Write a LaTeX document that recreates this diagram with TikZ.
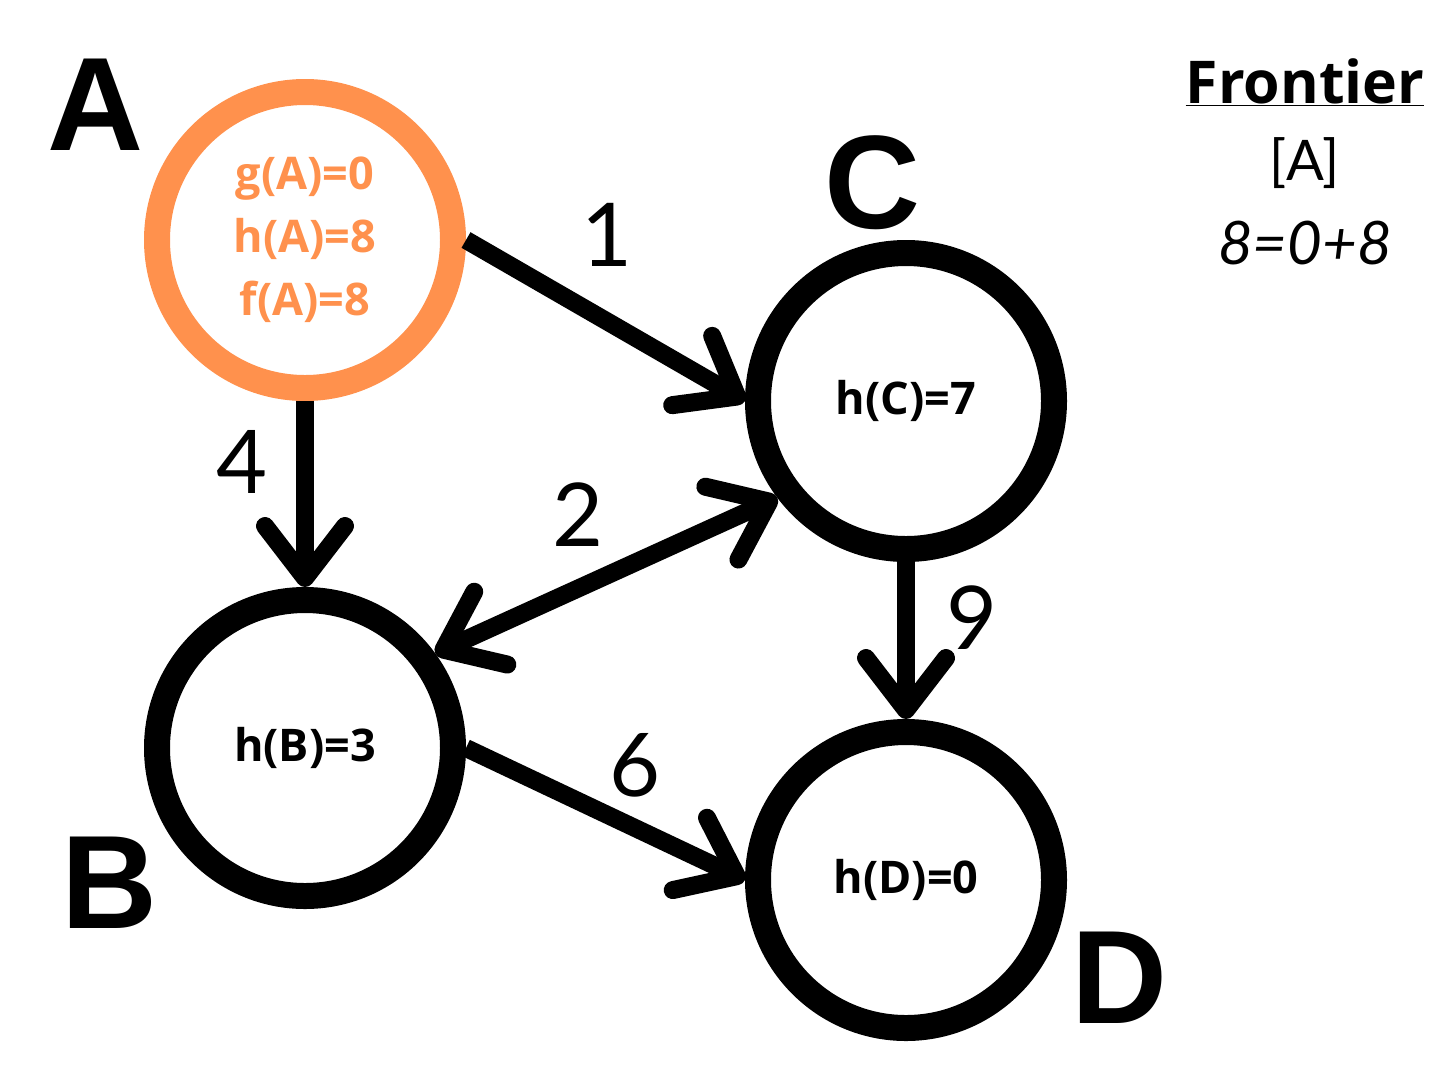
\documentclass[tikz,border=0pt]{standalone}
\usepackage{fontspec}
\usetikzlibrary{arrows.meta}
\newfontfamily\letterfont{Liberation Sans}
\newfontfamily\statefont{Open Sans}
\newfontfamily\numfont{Lato}
\definecolor{visitorange}{HTML}{FF914D}
\begin{document}
\begin{tikzpicture}[x=1pt,y=-1pt,
  state/.style={circle,draw=black,line width=26pt,minimum size=296pt,inner sep=0pt,align=center,
    font=\statefont\bfseries\fontsize{45}{63}\selectfont},
  edge/.style={line width=18pt,-{Straight Barb[round,length=52pt,width=80pt]}},
  cost/.style={font=\numfont\fontsize{88}{88}\selectfont},
  letter/.style={font=\letterfont\bfseries\fontsize{133}{133}\selectfont}]
\useasboundingbox (0,0) rectangle (1455,1080);
% states
\node[state,draw=visitorange,text=visitorange] (A) at (305,240) {g(A)=0\\h(A)=8\\f(A)=8};
\node[state] (B) at (305,748) {h(B)=3};
\node[state] (C) at (906,401) {h(C)=7};
\node[state] (D) at (906,880) {h(D)=0};
% edges
\draw[edge] (A.east) -- (C.west);
\draw[edge] (A.south) -- (B.north);
\draw[edge,{Straight Barb[round,length=52pt,width=80pt]}-{Straight Barb[round,length=52pt,width=80pt]}] (B.36) -- (C.217);
\draw[edge] (B.east) -- (D.west);
\draw[edge] (C.south) -- (D.north);
% costs
\node[cost] (c1) at (607,235) {1};
\node[cost] (c4) at (242,462) {4};
\node[cost] (c2) at (578,515) {2};
\node[cost] (c9) at (972,618) {9};
\node[cost] (c6) at (635,765) {6};
% names
\node[letter] (nA) at (96,105) {A};
\node[letter] (nC) at (873,183) {C};
\node[letter] (nB) at (110,883) {B};
\node[letter] (nD) at (1120,978) {D};
% frontier
\node[font=\statefont\bfseries\fontsize{59}{59}\selectfont] (fr) at (1305,82) {\underline{Frontier}};
\node[font=\numfont\fontsize{56}{56}\selectfont] (fl) at (1305,163) {[A]};
\node[font=\numfont\itshape\fontsize{60}{60}\selectfont] (fc) at (1305,243) {8=0+8};
\end{tikzpicture}
\end{document}
